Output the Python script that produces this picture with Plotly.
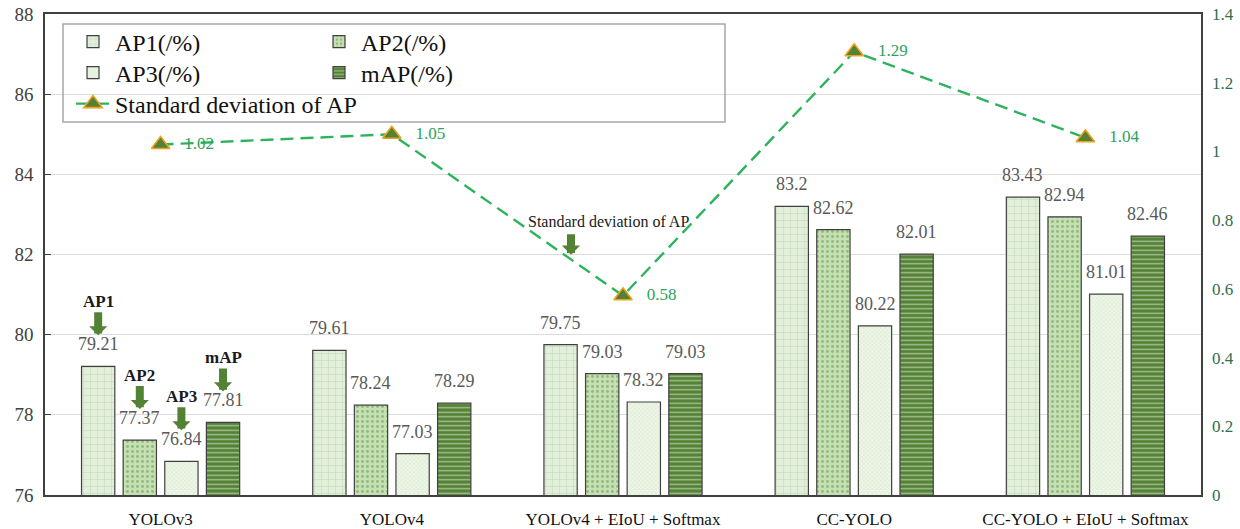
import plotly.graph_objects as go

categories = ["YOLOv3", "YOLOv4", "YOLOv4 + EIoU + Softmax", "CC-YOLO", "CC-YOLO + EIoU + Softmax"]
ap1 = [79.21, 79.61, 79.75, 83.2, 83.43]
ap2 = [77.37, 78.24, 79.03, 82.62, 82.94]
ap3 = [76.84, 77.03, 78.32, 80.22, 81.01]
map_ = [77.81, 78.29, 79.03, 82.01, 82.46]
std_ap = [1.02, 1.05, 0.58, 1.29, 1.04]

series_names = ["AP1(/%)", "AP2(/%)", "AP3(/%)", "mAP(/%)"]
series_vals = [ap1, ap2, ap3, map_]
arrow_labels = ["AP1", "AP2", "AP3", "mAP"]

# the page body margin is removed (post_script), so figure fills the window
W, H = 1240, 529
ML, MT = 45, 14
MR = W - 1201
MB = H - 495
PW = W - ML - MR
PH = H - MT - MB


def px(xs):
    return (xs - ML) / PW


def py(ys):
    return (H - MB - ys) / PH


BARGAP, GROUPGAP = 0.28, 0.2
slot = PW / len(categories) * (1 - BARGAP) / 4

SERIF = "Liberation Serif, Times New Roman, serif"

styles = [
    dict(color="#e2efda", pattern=dict(shape="+", fgcolor="#9fbf8f", size=7, solidity=0.14, fillmode="overlay")),
    dict(color="#c5e0b4", pattern=dict(shape=".", fgcolor="#5f9440", size=5, solidity=0.28, fillmode="overlay")),
    dict(color="#eef6e8", pattern=dict(shape="x", fgcolor="#b7d3a5", size=3, solidity=0.3, fillmode="overlay")),
    dict(color="#548235", pattern=dict(shape="-", fgcolor="#ffffff", size=4.5, solidity=0.3, fillmode="overlay")),
]
legend_of = ["legend", "legend", "legend2", "legend2"]

fig = go.Figure()
for i, (name, vals) in enumerate(zip(series_names, series_vals)):
    fig.add_trace(go.Bar(
        x=categories, y=vals, name=name,
        marker=dict(color=styles[i]["color"], pattern=styles[i]["pattern"],
                    line=dict(color="#404040", width=1.2)),
        legend=legend_of[i],
    ))

fig.add_trace(go.Scatter(
    x=categories, y=std_ap, name="Standard deviation of AP", yaxis="y2",
    mode="lines+markers+text",
    line=dict(color="#2db35d", width=2.4, dash="13px,7px"),
    marker=dict(symbol="triangle-up", size=16, color="#548235", line=dict(color="#f0a020", width=1.6)),
    text=[f"{v}" for v in std_ap], texttemplate="   %{text}",
    textposition="middle right",
    textfont=dict(family=SERIF, size=17, color="#2ca25a"),
    legend="legend3", cliponaxis=False,
))

annotations = []
# value labels above bars
for i, vals in enumerate(series_vals):
    off = (i - 1.5) * slot
    for c, v in zip(categories, vals):
        annotations.append(dict(
            x=c, y=v, xref="x", yref="y", xshift=off, yshift=22,
            text=f"{v}", showarrow=False,
            font=dict(family=SERIF, size=18, color="#595959"),
        ))
# callout arrows on the first group
for i, vals in enumerate(series_vals):
    off = (i - 1.5) * slot
    annotations.append(dict(
        x=categories[0], y=vals[0], xref="x", yref="y", xshift=off, yshift=31,
        text=f"<b>{arrow_labels[i]}</b>", showarrow=True, ax=0, ay=-34,
        arrowcolor="#548235", arrowwidth=8, arrowhead=1, arrowsize=0.38,
        font=dict(family=SERIF, size=17, color="#1a1a1a"),
    ))
# callout for the standard deviation line
annotations.append(dict(
    x=categories[2], y=std_ap[2], xref="x", yref="y2", xshift=-52, yshift=41,
    text="", showarrow=True, ax=0, ay=-22,
    arrowcolor="#548235", arrowwidth=8, arrowhead=1, arrowsize=0.38,
))
annotations.append(dict(
    x=categories[2], y=std_ap[2], xref="x", yref="y2", xshift=-15, yshift=74,
    text="Standard deviation of AP", showarrow=False,
    font=dict(family=SERIF, size=16, color="#1a1a1a"),
))

legend_common = dict(
    orientation="h", xanchor="left", yanchor="middle", x=px(71),
    font=dict(family=SERIF, size=24, color="#111111"),
    bgcolor="rgba(0,0,0,0)", borderwidth=0,
    entrywidth=197, entrywidthmode="pixels", itemwidth=34,
    traceorder="normal",
)

fig.update_layout(
    width=W, height=H,
    margin=dict(l=ML, r=MR, t=MT, b=MB, autoexpand=False),
    paper_bgcolor="white", plot_bgcolor="white",
    barmode="group", bargap=BARGAP, bargroupgap=GROUPGAP,
    font=dict(family=SERIF, color="#404040"),
    annotations=annotations,
    legend=dict(legend_common, y=py(42)),
    legend2=dict(legend_common, y=py(73)),
    legend3=dict(legend_common, y=py(104), entrywidth=400),
    showlegend=True,
    xaxis=dict(
        showline=True, linecolor="#404040", linewidth=1.5, mirror=True,
        tickfont=dict(family=SERIF, size=17, color="#111111"),
        ticks="", ticklabelstandoff=8, automargin=False,
    ),
    yaxis=dict(
        range=[76, 88], dtick=2, showline=True, linecolor="#404040", linewidth=1.5, mirror=True,
        gridcolor="#dcdcdc", gridwidth=1, zeroline=False,
        ticks="inside", ticklen=6, tickcolor="#404040",
        tickfont=dict(family=SERIF, size=19, color="#404040"), ticklabelstandoff=6,
        automargin=False,
    ),
    yaxis2=dict(
        range=[0, 1.4], dtick=0.2, overlaying="y", side="right",
        showgrid=False, showline=False, zeroline=False, ticks="",
        tickfont=dict(family=SERIF, size=17, color="#2f6e4e"), ticklabelstandoff=10,
        tickformat="~g", automargin=False,
    ),
    shapes=[dict(
        type="rect", xref="paper", yref="paper",
        x0=px(63), x1=px(725), y0=py(122), y1=py(24),
        line=dict(color="#a6a6a6", width=1.5), fillcolor="rgba(0,0,0,0)", layer="above",
    )],
)

fig.write_html(
    "out.html",
    config={"displayModeBar": False},
    post_script="document.body.style.margin='0';document.body.style.overflow='hidden';",
)
